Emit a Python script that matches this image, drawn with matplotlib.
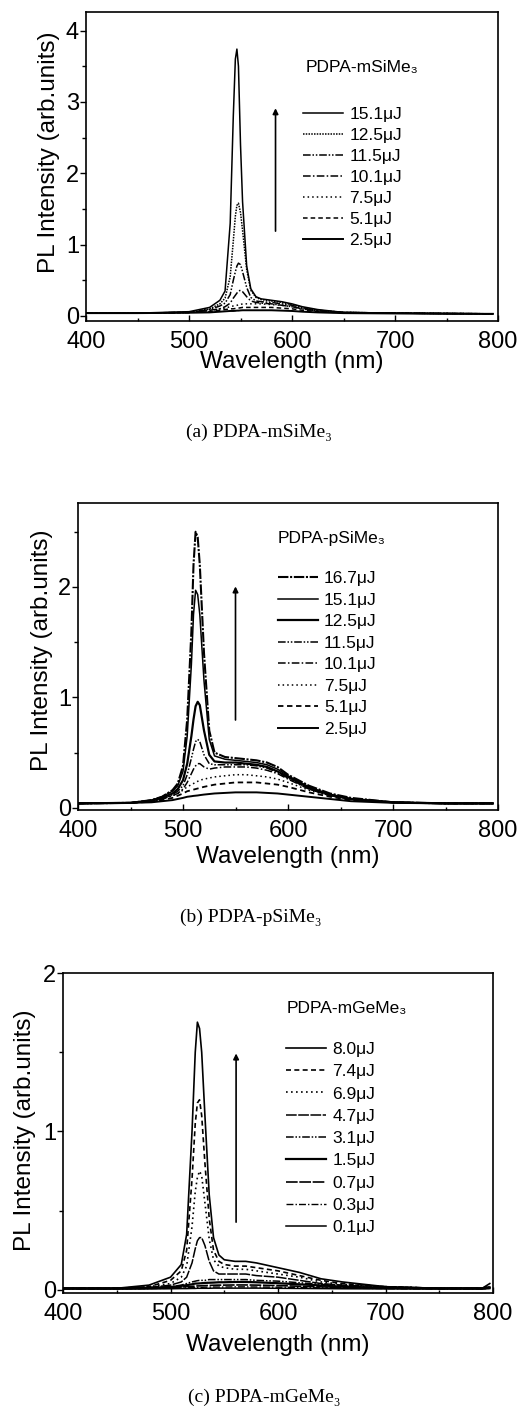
import matplotlib
matplotlib.use("Agg")
import matplotlib.pyplot as plt
from matplotlib.ticker import MultipleLocator

plt.rcParams['font.family'] = ['Liberation Sans', 'DejaVu Sans']

# ---------- (a) PDPA-mSiMe3 ----------
wl_a = [400, 450, 500, 520, 530, 535, 540, 543, 545, 546.5, 548, 550, 552, 556, 560, 565, 570,
        580, 590, 600, 610, 625, 650, 700, 750, 795]
labels_a = ['15.1μJ', '12.5μJ', '11.5μJ', '10.1μJ', '7.5μJ', '5.1μJ', '2.5μJ']
pl_a_151 = [0.04, 0.04, 0.06, 0.12, 0.22, 0.35, 1.30, 2.80, 3.60, 3.74, 3.50, 2.40, 1.60, 0.70, 0.38, 0.27, 0.24,
            0.22, 0.20, 0.17, 0.13, 0.09, 0.05, 0.04, 0.035, 0.03]
pl_a_125 = [0.04, 0.04, 0.05, 0.10, 0.17, 0.25, 0.55, 1.05, 1.40, 1.55, 1.58, 1.45, 1.20, 0.65, 0.36, 0.26, 0.23,
            0.21, 0.19, 0.16, 0.12, 0.08, 0.05, 0.04, 0.035, 0.03]
pl_a_115 = [0.04, 0.04, 0.05, 0.09, 0.14, 0.18, 0.30, 0.50, 0.62, 0.70, 0.74, 0.72, 0.62, 0.40, 0.26, 0.21, 0.20,
            0.19, 0.17, 0.15, 0.11, 0.08, 0.05, 0.04, 0.035, 0.03]
pl_a_101 = [0.04, 0.04, 0.05, 0.08, 0.10, 0.13, 0.18, 0.25, 0.29, 0.32, 0.35, 0.36, 0.34, 0.27, 0.21, 0.19, 0.18,
            0.17, 0.15, 0.13, 0.10, 0.07, 0.05, 0.04, 0.035, 0.03]
pl_a_75 = [0.04, 0.04, 0.05, 0.07, 0.10, 0.11, 0.13, 0.14, 0.145, 0.15, 0.155, 0.16, 0.17, 0.17, 0.17, 0.17, 0.17,
           0.16, 0.15, 0.13, 0.10, 0.07, 0.05, 0.04, 0.035, 0.03]
pl_a_51 = [0.04, 0.04, 0.05, 0.06, 0.08, 0.09, 0.10, 0.10, 0.105, 0.11, 0.11, 0.115, 0.12, 0.12, 0.12, 0.12, 0.12,
           0.12, 0.11, 0.10, 0.08, 0.06, 0.045, 0.04, 0.035, 0.03]
pl_a_25 = [0.04, 0.04, 0.045, 0.05, 0.06, 0.065, 0.07, 0.07, 0.072, 0.075, 0.075, 0.078, 0.08, 0.08, 0.08, 0.08, 0.08,
           0.08, 0.075, 0.07, 0.06, 0.05, 0.04, 0.035, 0.03, 0.03]
series_a = [pl_a_151, pl_a_125, pl_a_115, pl_a_101, pl_a_75, pl_a_51, pl_a_25]

# ---------- (b) PDPA-pSiMe3 ----------
wl_b = [400, 450, 470, 480, 490, 495, 500, 504, 508, 510, 512, 514, 516, 520, 525, 530, 540, 550, 560, 570,
        580, 590, 600, 620, 640, 660, 700, 750, 795]
labels_b = ['16.7μJ', '15.1μJ', '12.5μJ', '11.5μJ', '10.1μJ', '7.5μJ', '5.1μJ', '2.5μJ']
pl_b_167 = [0.04, 0.045, 0.07, 0.10, 0.16, 0.22, 0.38, 0.80, 1.60, 2.20, 2.50, 2.45, 2.20, 1.40, 0.70, 0.50, 0.46, 0.45, 0.44, 0.43,
            0.41, 0.37, 0.30, 0.20, 0.13, 0.09, 0.05, 0.04, 0.04]
pl_b_151 = [0.04, 0.045, 0.07, 0.10, 0.15, 0.20, 0.33, 0.65, 1.30, 1.75, 1.97, 1.93, 1.75, 1.15, 0.62, 0.47, 0.44, 0.43, 0.42, 0.41,
            0.39, 0.35, 0.29, 0.19, 0.12, 0.08, 0.05, 0.04, 0.04]
pl_b_125 = [0.04, 0.045, 0.065, 0.09, 0.13, 0.17, 0.25, 0.40, 0.65, 0.80, 0.92, 0.96, 0.93, 0.70, 0.48, 0.42, 0.41, 0.41, 0.40, 0.39,
            0.37, 0.33, 0.28, 0.18, 0.12, 0.08, 0.05, 0.04, 0.04]
pl_b_115 = [0.04, 0.045, 0.06, 0.08, 0.12, 0.15, 0.20, 0.30, 0.45, 0.53, 0.60, 0.62, 0.60, 0.48, 0.40, 0.39, 0.39, 0.39, 0.39, 0.38,
            0.36, 0.32, 0.27, 0.17, 0.11, 0.08, 0.05, 0.04, 0.04]
pl_b_101 = [0.04, 0.045, 0.06, 0.08, 0.11, 0.13, 0.17, 0.23, 0.31, 0.35, 0.38, 0.40, 0.40, 0.37, 0.35, 0.36, 0.37, 0.37, 0.37, 0.36,
            0.34, 0.31, 0.26, 0.17, 0.11, 0.08, 0.05, 0.04, 0.04]
pl_b_75 = [0.04, 0.045, 0.06, 0.08, 0.11, 0.13, 0.16, 0.19, 0.21, 0.22, 0.23, 0.24, 0.25, 0.26, 0.27, 0.28, 0.29, 0.30, 0.30, 0.29,
           0.28, 0.26, 0.23, 0.16, 0.11, 0.08, 0.05, 0.04, 0.04]
pl_b_51 = [0.04, 0.045, 0.055, 0.07, 0.09, 0.11, 0.13, 0.15, 0.16, 0.165, 0.17, 0.175, 0.18, 0.19, 0.20, 0.21, 0.22, 0.23, 0.23, 0.23,
           0.22, 0.21, 0.19, 0.14, 0.10, 0.07, 0.05, 0.04, 0.04]
pl_b_25 = [0.04, 0.045, 0.05, 0.06, 0.07, 0.08, 0.09, 0.10, 0.105, 0.108, 0.11, 0.112, 0.115, 0.12, 0.125, 0.13, 0.135, 0.14, 0.14, 0.14,
           0.135, 0.13, 0.12, 0.10, 0.08, 0.06, 0.045, 0.04, 0.04]
series_b = [pl_b_167, pl_b_151, pl_b_125, pl_b_115, pl_b_101, pl_b_75, pl_b_51, pl_b_25]

# ---------- (c) PDPA-mGeMe3 ----------
wl_c = [400, 450, 480, 500, 510, 515, 520, 523, 525, 527, 529, 532, 536, 540, 545, 550, 560, 570, 580,
        600, 620, 640, 660, 700, 750, 790, 797]
labels_c = ['8.0μJ', '7.4μJ', '6.9μJ', '4.7μJ', '3.1μJ', '1.5μJ', '0.7μJ', '0.3μJ', '0.1μJ']
pl_c_80 = [0.01, 0.01, 0.03, 0.08, 0.16, 0.35, 1.00, 1.50, 1.69, 1.65, 1.50, 1.10, 0.60, 0.33, 0.22, 0.19, 0.18, 0.18, 0.17,
           0.14, 0.11, 0.07, 0.05, 0.02, 0.01, 0.01, 0.04]
pl_c_74 = [0.01, 0.01, 0.02, 0.06, 0.12, 0.25, 0.70, 1.05, 1.18, 1.20, 1.10, 0.80, 0.45, 0.25, 0.18, 0.16, 0.15, 0.15, 0.14,
           0.12, 0.09, 0.06, 0.04, 0.02, 0.01, 0.01, 0.03]
pl_c_69 = [0.01, 0.01, 0.02, 0.04, 0.08, 0.15, 0.40, 0.62, 0.71, 0.75, 0.72, 0.55, 0.32, 0.19, 0.15, 0.14, 0.13, 0.13, 0.12,
           0.10, 0.08, 0.05, 0.035, 0.02, 0.01, 0.01, 0.02]
pl_c_47 = [0.01, 0.01, 0.015, 0.03, 0.05, 0.08, 0.17, 0.26, 0.31, 0.33, 0.33, 0.28, 0.18, 0.12, 0.10, 0.10, 0.10, 0.10, 0.09,
           0.08, 0.06, 0.04, 0.03, 0.02, 0.01, 0.01, 0.02]
pl_c_31 = [0.01, 0.01, 0.012, 0.02, 0.03, 0.04, 0.05, 0.055, 0.058, 0.06, 0.06, 0.06, 0.065, 0.065, 0.065, 0.065, 0.065, 0.065, 0.06,
           0.055, 0.045, 0.035, 0.025, 0.015, 0.01, 0.01, 0.015]
pl_c_15 = [0.01, 0.01, 0.012, 0.018, 0.025, 0.03, 0.035, 0.04, 0.04, 0.041, 0.042, 0.044, 0.045, 0.046, 0.048, 0.048, 0.05, 0.05, 0.048,
           0.042, 0.035, 0.028, 0.02, 0.013, 0.01, 0.01, 0.015]
pl_c_07 = [0.008, 0.008, 0.01, 0.014, 0.018, 0.02, 0.022, 0.024, 0.025, 0.025, 0.026, 0.027, 0.028, 0.029, 0.03, 0.03, 0.031, 0.031, 0.03,
           0.027, 0.023, 0.019, 0.015, 0.01, 0.008, 0.008, 0.012]
pl_c_03 = [0.006, 0.006, 0.008, 0.01, 0.012, 0.013, 0.014, 0.015, 0.016, 0.016, 0.016, 0.017, 0.017, 0.018, 0.018, 0.018, 0.019, 0.019, 0.018,
           0.017, 0.015, 0.013, 0.011, 0.008, 0.006, 0.006, 0.01]
pl_c_01 = [0.005, 0.005, 0.006, 0.007, 0.008, 0.008, 0.009, 0.009, 0.01, 0.01, 0.01, 0.01, 0.01, 0.011, 0.011, 0.011, 0.011, 0.011, 0.011,
           0.01, 0.009, 0.008, 0.007, 0.006, 0.005, 0.005, 0.008]
series_c = [pl_c_80, pl_c_74, pl_c_69, pl_c_47, pl_c_31, pl_c_15, pl_c_07, pl_c_03, pl_c_01]

# line styles
SOLID = '-'
DDOT = (0, (1, 0.8))
DADODO = (0, (5, 1.2, 1, 1.2, 1, 1.2))
DADO = (0, (5, 1.5, 1, 1.5))
DOT = (0, (1, 2))
DASH = (0, (3, 2))
LDASH = (0, (7, 1))
FINE = (0, (5, 0.8, 1, 0.8))

styles_a = [(SOLID, 1.1), (DDOT, 1.1), (DADODO, 1.1), (DADO, 1.1), (DOT, 1.1), (DASH, 1.1), (SOLID, 1.4)]
styles_b = [(FINE, 1.5), (SOLID, 1.1), (SOLID, 1.6), (DADODO, 1.1), (DADO, 1.1), (DOT, 1.1), (DASH, 1.3), (SOLID, 1.4)]
styles_c = [(SOLID, 1.2), (DASH, 1.2), (DOT, 1.2), (LDASH, 1.1), (DADODO, 1.1), (SOLID, 1.6), (LDASH, 1.2), (DADO, 1.0), (SOLID, 1.1)]

fig = plt.figure(figsize=(5.2, 14.09), dpi=100)

panels = [
    # rect, wl, series, labels, styles, ylim, yticks, title, title_xy, leg_xy, leg_sp, arrow, ylabel_xy, xlabel_y, caption, caption_xy
    ([0.1654, 0.7722, 0.7923, 0.2193], wl_a, series_a, labels_a, styles_a, (-0.07, 4.26), [0, 1, 2, 3, 4],
     'PDPA-mSiMe₃', (0.532, 0.819), (0.527, 0.693), 0.34, (584, 1.15, 2.95), (-0.064, 0.547), -0.097,
     '(a) PDPA-mSiMe₃', (0.497, 1 - 432 / 1409)),
    ([0.15, 0.4251, 0.8077, 0.2179], wl_b, series_b, labels_b, styles_b, (-0.02, 2.76), [0, 1, 2],
     'PDPA-pSiMe₃', (0.476, 0.886), (0.476, 0.779), 0.37, (550, 0.77, 2.03), (-0.06, 0.52), -0.117,
     '(b) PDPA-pSiMe₃', (0.483, 1 - 917 / 1409)),
    ([0.1212, 0.0823, 0.8269, 0.2271], wl_c, series_c, labels_c, styles_c, (-0.02, 2.0), [0, 1, 2],
     'PDPA-mGeMe₃', (0.521, 0.89), (0.519, 0.785), 0.41, (561, 0.41, 1.51), (-0.062, 0.51), -0.129,
     '(c) PDPA-mGeMe₃', (0.508, 1 - 1397 / 1409)),
]

for (rect, wl, series, labels, styles, ylim, yticks, title, title_xy, leg_xy, leg_sp, arrow,
     ylabel_xy, xlabel_y, caption, caption_xy) in panels:
    ax = fig.add_axes(rect)
    for vals, lab, (ls, lw) in zip(series, labels, styles):
        ax.plot(wl, vals, color='black', linestyle=ls, linewidth=lw, label=lab)
    ax.set_xlim(400, 800)
    ax.set_ylim(*ylim)
    ax.set_xticks([400, 500, 600, 700, 800])
    ax.xaxis.set_minor_locator(MultipleLocator(50))
    ax.set_yticks(yticks)
    ax.yaxis.set_minor_locator(MultipleLocator(0.5))
    ax.tick_params(axis='x', which='major', direction='in', length=4, width=1, labelsize=17, pad=7)
    ax.tick_params(axis='x', which='minor', direction='in', length=2.5, width=1)
    ax.tick_params(axis='y', which='major', direction='out', length=4, width=1, labelsize=17, pad=1)
    ax.tick_params(axis='y', which='minor', direction='out', length=3, width=1)
    for sp in ax.spines.values():
        sp.set_linewidth(1.2)
    ax.set_xlabel('Wavelength (nm)', fontsize=17.5)
    ax.set_ylabel('PL Intensity (arb.units)', fontsize=17.5)
    ax.xaxis.set_label_coords(0.5, xlabel_y)
    ax.yaxis.set_label_coords(*ylabel_xy)

    ax.text(title_xy[0], title_xy[1], title, transform=ax.transAxes, fontsize=12.5,
            ha='left', va='center')
    ax.legend(loc='upper left', bbox_to_anchor=leg_xy, frameon=False, fontsize=12.5,
              handlelength=2.3, handletextpad=0.35, labelspacing=leg_sp,
              borderpad=0, borderaxespad=0)
    ax.annotate('', xy=(arrow[0], arrow[2]), xytext=(arrow[0], arrow[1]),
                arrowprops=dict(arrowstyle='-|>', color='black', lw=1.2, mutation_scale=8))

    fig.text(caption_xy[0], caption_xy[1], caption, ha='center', va='center', fontsize=14,
             family=['Liberation Serif', 'DejaVu Serif'])

fig.savefig('out.png', dpi=100)
